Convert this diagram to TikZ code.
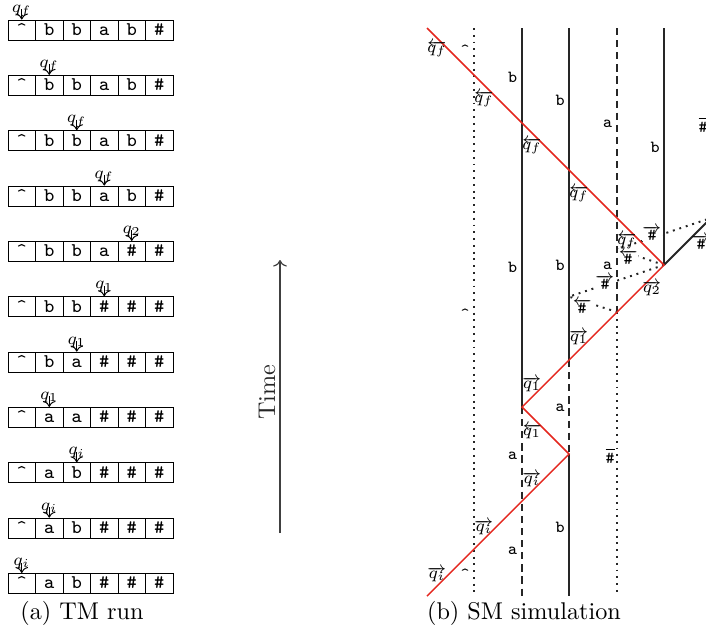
\documentclass[tikz,border=0pt]{standalone}
\usetikzlibrary{arrows.meta}
\definecolor{sigred}{RGB}{228,38,30}
\newcommand\crt{\textasciicircum}
\begin{document}
\begin{tikzpicture}[x=0.4132pt,y=-0.4132pt,
  cell/.style={draw,line width=0.4pt,minimum width=11.36pt,minimum height=8.26pt,inner sep=0pt,font=\footnotesize\ttfamily,text height=5.2pt,text depth=0.7pt},
  headarrow/.style={->,line width=0.4pt},
  headlbl/.style={anchor=base,font=\scriptsize,inner sep=0pt},
  solidsig/.style={line width=0.8pt,black!85},
  dashsig/.style={line width=0.8pt,dash pattern=on 3pt off 2pt,black!85},
  dotsig/.style={line width=0.8pt,dotted,black!85},
  redsig/.style={line width=0.6pt,sigred},
  tl/.style={anchor=base,font=\scriptsize\ttfamily,inner sep=0pt},
  ql/.style={font=\scriptsize,inner sep=0pt},
  hl/.style={font=\scriptsize,inner sep=0.3pt,fill=white},
  capt/.style={font=\normalsize,inner sep=0pt}
]
\useasboundingbox (0,0) rectangle (706,636);

% ---------- (a) TM run ----------
\foreach \r/\h/\q/\cells in {
 1/1/q_f/{\crt,b,b,a,b,\#},
 2/2/q_f/{\crt,b,b,a,b,\#},
 3/3/q_f/{\crt,b,b,a,b,\#},
 4/4/q_f/{\crt,b,b,a,b,\#},
 5/5/q_2/{\crt,b,b,a,\#,\#},
 6/4/q_1/{\crt,b,b,\#,\#,\#},
 7/3/q_1/{\crt,b,a,\#,\#,\#},
 8/2/q_1/{\crt,a,a,\#,\#,\#},
 9/3/q_i/{\crt,a,b,\#,\#,\#},
 10/2/q_i/{\crt,a,b,\#,\#,\#},
 11/1/q_i/{\crt,a,b,\#,\#,\#}}
{
  \pgfmathsetmacro\cy{30+55.35*(\r-1)}
  \foreach \s [count=\c] in \cells {
    \node[cell] (t\r-\c) at ({8+27.5*(\c-0.5)},\cy) {\s};
  }
  \coordinate (h\r) at ({8+27.5*(\h-0.5)},\cy-21);
  \draw[headarrow] (h\r) -- (t\r-\h.north);
  \node[headlbl] (q\r) at ({8+27.5*(\h-0.5)},\cy-18) {$\q$};
}
\node[capt] (capA) at (82,613) {(a) TM run};

% ---------- Time ----------
\coordinate (tb) at (280,533);
\coordinate (tt) at (280,260);
\draw[->,black!75,line width=0.5pt] (tb) -- (tt);
\node[rotate=90,inner sep=0pt,black!85] (time) at (267,392) {Time};

% ---------- (b) SM simulation ----------
\coordinate (R0) at (427,28);
\coordinate (R1) at (664,265);
\coordinate (R2) at (522,407);
\coordinate (R3) at (569,454);
\coordinate (R4) at (427,596);
\coordinate (c1t) at (474,28);  \coordinate (c1b) at (474,596);
\coordinate (c2t) at (522,28);  \coordinate (c2b) at (522,596);
\coordinate (c3t) at (569,28);  \coordinate (c3m) at (569,360); \coordinate (c3b) at (569,596);
\coordinate (c4t) at (617,28);  \coordinate (c4m) at (617,312); \coordinate (c4b) at (617,596);
\coordinate (c5t) at (664,28);
\coordinate (E1) at (714,215);
\coordinate (B4) at (617,249.33);
\coordinate (C3) at (569,296.67);
\coordinate (EA) at (719,215.33);

\draw[dotsig] (c1t) -- (c1b);
\draw[solidsig] (c2t) -- (R2);
\draw[dashsig] (R2) -- (c2b);
\draw[solidsig] (c3t) -- (c3m);
\draw[dashsig] (c3m) -- (R3);
\draw[solidsig] (R3) -- (c3b);
\draw[dashsig] (c4t) -- (c4m);
\draw[dotsig] (c4m) -- (c4b);
\draw[solidsig] (c5t) -- (R1);
\draw[solidsig] (R1) -- (E1);
\draw[dotsig] (R1) -- (B4) -- (EA);
\draw[dotsig] (R1) -- (C3) -- (c4m);
\draw[redsig] (R0) -- (R1) -- (R2) -- (R3) -- (R4);

% letters on the stationary signals
\node[tl] (l1a) at (465,55) {\crt};
\node[tl] (l1b) at (465,319) {\crt};
\node[tl] (l1c) at (465,579) {\crt};
\node[tl] (l2a) at (512.5,82) {b};
\node[tl] (l2b) at (512.5,272) {b};
\node[tl] (l2c) at (512.5,459) {a};
\node[tl] (l2d) at (512.5,554) {a};
\node[tl] (l3a) at (560,105) {b};
\node[tl] (l3b) at (560,270) {b};
\node[tl] (l3c) at (560,411) {a};
\node[tl] (l3d) at (560,532) {b};
\node[tl] (l4a) at (607.5,127) {a};
\node[tl] (l4b) at (607.5,269) {a};
\node[ql] (l4c) at (610,456) {$\overline{\texttt{\#}}$};
\node[tl] (l5a) at (655,152) {b};
\node[ql] (l6a) at (703,125) {$\overline{\texttt{\#}}$};

% head labels
\node[ql] (f0) at (437,49) {$\overleftarrow{q_f}$};
\node[ql] (f1) at (484,99) {$\overleftarrow{q_f}$};
\node[ql] (f2) at (532,146) {$\overleftarrow{q_f}$};
\node[ql] (f3) at (579,194) {$\overleftarrow{q_f}$};
\node[ql] (f4) at (627,241) {$\overleftarrow{q_f}$};
\node[ql] (g2) at (652,288) {$\overrightarrow{q_2}$};
\node[ql] (g1a) at (579,337) {$\overrightarrow{q_1}$};
\node[ql] (g1b) at (532,384) {$\overrightarrow{q_1}$};
\node[ql] (k1) at (532,431) {$\overleftarrow{q_1}$};
\node[ql] (i2) at (532,479) {$\overrightarrow{q_i}$};
\node[ql] (i1) at (484,527) {$\overrightarrow{q_i}$};
\node[ql] (i0) at (437,574) {$\overrightarrow{q_i}$};

% hash signal labels
\node[hl] (hA) at (652,233) {$\overrightarrow{\texttt{\#}}$};
\node[hl] (hB) at (628,257) {$\overleftarrow{\texttt{\#}}$};
\node[hl] (hC) at (605,282) {$\overrightarrow{\texttt{\#}}$};
\node[hl] (hD) at (582,306) {$\overleftarrow{\texttt{\#}}$};
\node[ql] (hE) at (701,242) {$\overrightarrow{\texttt{\#}}$};

\node[capt] (capB) at (524,613) {(b) SM simulation};
\end{tikzpicture}
\end{document}
